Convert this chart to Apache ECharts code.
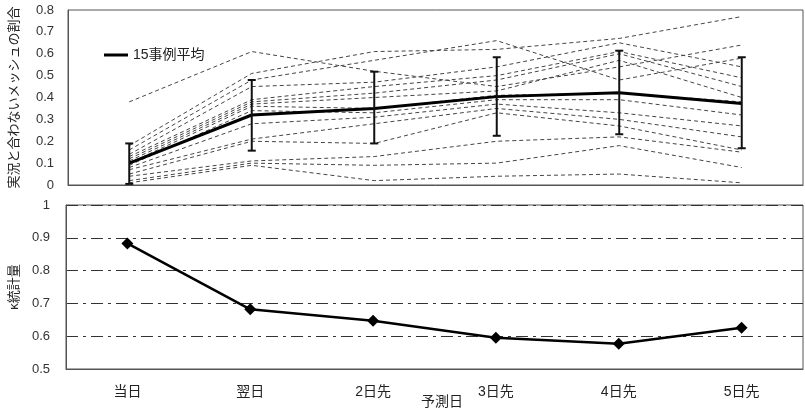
<!DOCTYPE html>
<html><head><meta charset="utf-8">
<script src="https://cdn.jsdelivr.net/npm/echarts@6/dist/echarts.min.js"></script>
<style>html,body{margin:0;padding:0;background:#fff}#c{width:805px;height:413px}</style>
</head><body><div id="c"></div>
<script>
const categories = ['当日','翌日','2日先','3日先','4日先','5日先'];
const case1 = [0.38,0.61,0.52,0.45,0.54,0.64];
const case2 = [0.18,0.51,0.61,0.62,0.67,0.77];
const case3 = [0.16,0.48,0.57,0.66,0.48,0.58];
const case4 = [0.14,0.45,0.47,0.54,0.65,0.54];
const case5 = [0.13,0.39,0.45,0.50,0.61,0.49];
const case6 = [0.12,0.38,0.42,0.48,0.60,0.45];
const case7 = [0.11,0.37,0.40,0.43,0.57,0.40];
const case8 = [0.10,0.36,0.35,0.41,0.42,0.38];
const case9 = [0.09,0.34,0.33,0.39,0.39,0.32];
const case10 = [0.08,0.28,0.31,0.37,0.33,0.27];
const case11 = [0.07,0.21,0.28,0.35,0.30,0.22];
const case12 = [0.05,0.20,0.19,0.33,0.27,0.16];
const case13 = [0.04,0.11,0.13,0.20,0.22,0.15];
const case14 = [0.02,0.10,0.09,0.10,0.18,0.08];
const case15 = [0.01,0.09,0.02,0.04,0.05,0.01];
const cases = [case1,case2,case3,case4,case5,case6,case7,case8,case9,case10,case11,case12,case13,case14,case15];
const meanValues = [0.10,0.32,0.35,0.404,0.422,0.373];
const errLow = [0.005,0.157,0.19,0.225,0.232,0.168];
const errHigh = [0.19,0.48,0.518,0.584,0.614,0.584];
const kappaValues = [0.883,0.682,0.647,0.595,0.577,0.626];
const topTicks = {min:0,max:0.8,interval:0.1};
const bottomTicks = {min:0.5,max:1,interval:0.1};

const FONT = "'Liberation Sans','Noto Sans CJK JP',sans-serif";
const chart = echarts.init(document.getElementById('c'));
const series = [];
cases.forEach((c,i)=>{
  series.push({type:'line',name:'case'+(i+1),xAxisIndex:0,yAxisIndex:0,data:c,symbol:'none',silent:true,
    lineStyle:{color:'#444',width:1,type:[4,3]},z:2});
});
series.push({type:'line',name:'15事例平均',xAxisIndex:0,yAxisIndex:0,data:meanValues,symbol:'none',
  lineStyle:{color:'#000',width:3},itemStyle:{color:'#000'},z:5});
series.push({type:'custom',name:'err',xAxisIndex:0,yAxisIndex:0,z:6,
  data:categories.map((c,i)=>[i,errLow[i],errHigh[i]]),
  renderItem:function(params,api){
    const lo=api.coord([api.value(0),api.value(1)]);
    const hi=api.coord([api.value(0),api.value(2)]);
    const w=4;
    const st={stroke:'#111',lineWidth:2};
    return {type:'group',children:[
      {type:'line',shape:{x1:lo[0],y1:lo[1],x2:hi[0],y2:hi[1]},style:st},
      {type:'line',shape:{x1:lo[0]-w,y1:lo[1],x2:lo[0]+w,y2:lo[1]},style:st},
      {type:'line',shape:{x1:hi[0]-w,y1:hi[1],x2:hi[0]+w,y2:hi[1]},style:st}
    ]};
  }});
series.push({type:'line',name:'kappa',xAxisIndex:1,yAxisIndex:1,data:kappaValues,symbol:'diamond',symbolSize:12,
  lineStyle:{color:'#000',width:2.5},itemStyle:{color:'#000'},z:5});

chart.setOption({
  animation:false,
  textStyle:{fontFamily:FONT},
  legend:{data:[{name:'15事例平均',icon:'rect'}],left:99,top:43,itemWidth:24,itemHeight:3,itemGap:4,
    textStyle:{fontSize:14,color:'#222',fontFamily:FONT}},
  grid:[
    {left:61,top:10,width:742,height:175,show:true,borderColor:'#555',borderWidth:1,backgroundColor:'transparent'},
    {left:61,top:205,width:742,height:164,show:true,borderColor:'#555',borderWidth:1,backgroundColor:'transparent'}
  ],
  xAxis:[
    {type:'category',gridIndex:0,data:categories,boundaryGap:true,
      axisLine:{lineStyle:{color:'#555'}},axisTick:{inside:true,length:4,lineStyle:{color:'#555'}},axisLabel:{show:false},splitLine:{show:false}},
    {type:'category',gridIndex:1,data:categories,boundaryGap:true,
      axisLine:{lineStyle:{color:'#555'}},axisTick:{inside:true,length:4,lineStyle:{color:'#555'}},
      axisLabel:{fontSize:14,color:'#222',margin:16,fontFamily:FONT},splitLine:{show:false}}
  ],
  yAxis:[
    {type:'value',gridIndex:0,min:topTicks.min,max:topTicks.max,interval:topTicks.interval,
      name:'実況と合わないメッシュの割合',nameLocation:'middle',nameGap:47,nameRotate:90,
      nameTextStyle:{fontSize:13,color:'#222',fontFamily:FONT},
      axisLine:{show:true,lineStyle:{color:'#555'}},axisTick:{show:false},
      axisLabel:{fontSize:13,color:'#333',margin:14,fontFamily:FONT},splitLine:{show:false}},
    {type:'value',gridIndex:1,min:bottomTicks.min,max:bottomTicks.max,interval:bottomTicks.interval,
      name:'κ統計量',nameLocation:'middle',nameGap:39,nameRotate:90,
      nameTextStyle:{fontSize:13,color:'#222',fontFamily:FONT},
      axisLine:{show:true,lineStyle:{color:'#555'}},axisTick:{show:false},
      axisLabel:{fontSize:13,color:'#333',margin:16,fontFamily:FONT},
      splitLine:{show:true,lineStyle:{color:'#333',width:1,type:[12,5,3,5]}}}
  ],
  graphic:[{type:'text',left:421,top:395,style:{text:'予測日',fontSize:14,fill:'#222',fontFamily:FONT}}],
  series:series
});
</script></body></html>
